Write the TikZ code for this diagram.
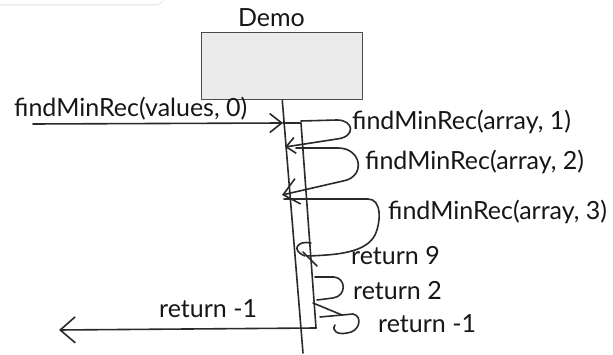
\documentclass[tikz,border=0pt]{standalone}
\usepackage{fontspec}
\setmainfont{Lato}
\usetikzlibrary{arrows.meta}
\definecolor{ink}{HTML}{2A2A2A}
\definecolor{txt}{HTML}{161616}
\definecolor{boxfill}{HTML}{EBEBEB}
\definecolor{boxline}{HTML}{4A4A4A}
\definecolor{faint}{HTML}{ECECF2}
\begin{document}
\begin{tikzpicture}[x=1pt,y=-1pt,line cap=round,line join=round,
  sketch/.style={draw=ink,line width=1.6pt},
  lbl/.style={font=\fontsize{25}{25}\selectfont,text=txt,inner sep=0pt,anchor=base west},
  barb/.style={-{Straight Barb[length=9pt,width=16pt,line width=1.6pt]}},
  midbarb/.style={-{Straight Barb[length=12pt,width=19pt,line width=1.6pt]}},
  bigbarb/.style={-{Straight Barb[length=15pt,width=26pt,line width=1.6pt]}}]
\useasboundingbox (0,0) rectangle (613,355);
% faint artefact line
\coordinate (f0) at (0,5);
\coordinate (f1) at (158,5);
\coordinate (f2) at (163,1);
\draw[faint,line width=1.5pt] (f0) -- (f1) -- (f2);
% object box
\node[draw=boxline,fill=boxfill,line width=1pt,minimum width=161pt,minimum height=67pt,inner sep=0pt] (demo) at (282.3,66.5) {};
\node[lbl,anchor=base] (demolbl) at (271.5,27) {Demo};
% lifeline
\coordinate (lb) at (303,353);
\draw[sketch] (demo.south) -- (lb);
% activation
\coordinate (at0) at (283,123);
\coordinate (at1) at (301,123);
\coordinate (ab) at (316,328);
\coordinate (ret) at (59,330);
\draw[sketch] (at0) -- (at1) -- (ab);
\draw[sketch,bigbarb] (ab) -- (ret);
% incoming call
\coordinate (in0) at (33,124);
\draw[sketch,midbarb] (in0) -- (at0);
\node[lbl] (call0) at (14,117) {findMinRec(values, 0)};
\node[lbl] (ret0) at (159,317) {return -1};
% loop 1
\coordinate (l1a) at (301,121);
\coordinate (l1b) at (337,120);
\coordinate (l1c) at (337,139);
\coordinate (l1d) at (285,147);
\draw[sketch,barb] (l1a) -- (l1b) .. controls (354,120) and (356,137) .. (l1c) -- (l1d);
\node[lbl] (call1) at (352,130) {findMinRec(array, 1)};
% loop 2
\coordinate (l2a) at (296,148);
\coordinate (l2b) at (338,148);
\coordinate (l2c) at (343,181);
\coordinate (l2d) at (282,195);
\draw[sketch,bigbarb] (l2a) -- (l2b) .. controls (362,148) and (366,177) .. (l2c) -- (l2d);
\node[lbl] (call2) at (365,170) {findMinRec(array, 2)};
% loop 3
\coordinate (l3a) at (284,199);
\coordinate (l3b) at (368,199);
\coordinate (l3c) at (375,235);
\coordinate (l3d) at (307,256);
\draw[sketch] (l3a) -- (l3b) .. controls (382,199) and (381,222) .. (l3c) .. controls (366,252) and (340,255) .. (l3d);
\coordinate (c9a) at (311,243);
\coordinate (c9b) at (305,256);
\draw[sketch] (c9a) .. controls (298,240) and (290,250) .. (c9b);
\coordinate (c9c) at (303,252);
\coordinate (c9d) at (317,266);
\draw[sketch] (c9c) -- (c9d);
\node[lbl] (call3) at (388,220) {findMinRec(array, 3)};
\node[lbl] (r9) at (351,265) {return 9};
% return 2 loop
\coordinate (r2a) at (315,277);
\coordinate (r2b) at (334,277);
\coordinate (r2c) at (333,298);
\coordinate (r2d) at (317,300);
\draw[sketch] (r2a) -- (r2b) .. controls (346,278) and (347,296) .. (r2c) -- (r2d);
\coordinate (r2e) at (313,303);
\coordinate (r2f) at (342,315);
\draw[sketch] (r2e) -- (r2f);
\node[lbl] (r2) at (353,300) {return 2};
% return -1 loop
\coordinate (r1a) at (320,317);
\coordinate (r1b) at (353,314);
\coordinate (r1c) at (347,333);
\coordinate (r1d) at (335,325);
\draw[sketch] (r1a) -- (r1b) .. controls (363,316) and (360,332) .. (r1c) .. controls (338,335) and (331,331) .. (r1d);
\node[lbl] (rm1) at (378,332) {return -1};
\end{tikzpicture}
\end{document}
